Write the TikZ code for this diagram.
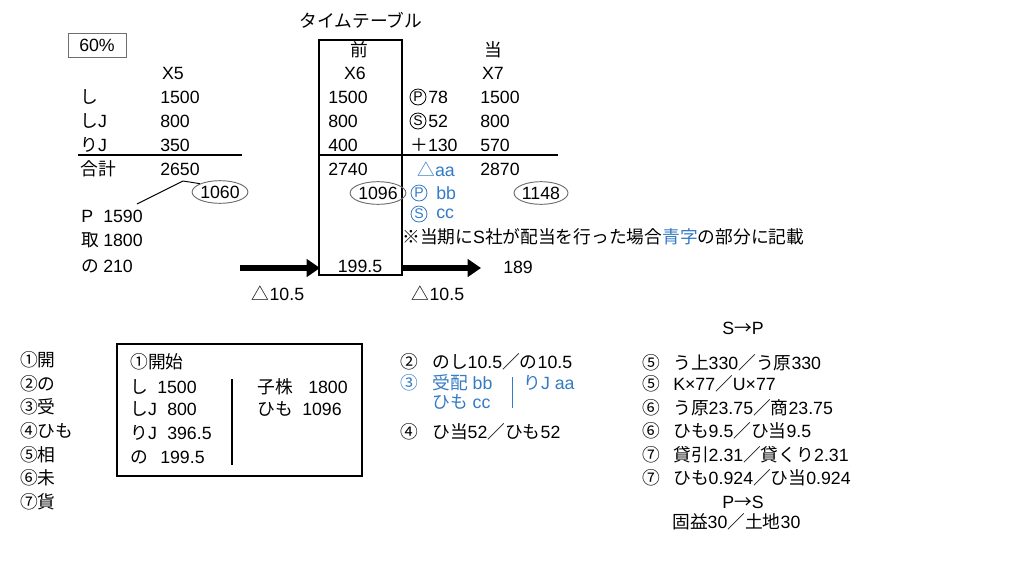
\documentclass[tikz,border=0pt]{standalone}
\usepackage{fontspec}
\setmainfont{Liberation Sans}
\newfontfamily\jp{Noto Sans CJK JP}
\newcommand\J[1]{{\jp #1}}
\usetikzlibrary{arrows.meta,shapes.geometric}
\definecolor{bl}{RGB}{52,122,196}
\definecolor{gr}{RGB}{110,110,110}
\begin{document}
\begin{tikzpicture}[x=0.75pt,y=-0.75pt,
  every node/.style={inner sep=0pt,font=\fontsize{13.3pt}{15pt}\selectfont},
  t/.style={anchor=west},
  bt/.style={anchor=west,text=bl},
  circ/.style={circle,draw,line width=0.6pt,minimum size=12pt,font=\fontsize{10.5pt}{11pt}\selectfont},
  oval/.style={ellipse,draw=gr,line width=0.7pt,minimum width=34pt,minimum height=17pt},
  bigarrow/.style={line width=4.8pt,-{Triangle[length=10pt,width=13pt]}},
  frame/.style={draw,line width=1.2pt}]
\useasboundingbox (0,0) rectangle (1024,576);
% top left
\node[draw=gr,line width=0.7pt,minimum width=43.5pt,minimum height=18pt] (pct) at (97,45) {60\%};
\node (title) at (361,20) {\J{タイムテーブル}};
\draw[frame] (319,40) rectangle (402,275);
\node (mae) at (359,50) {\J{前}};
\node (tou) at (493,50) {\J{当}};
\node (x5) at (173,73) {X5};
\node (x6) at (355,73) {X6};
\node (x7) at (493,73) {X7};
% labels
\node[t] (l1) at (80,97) {\J{し}};
\node[t] (l2) at (80,121) {\J{し}J};
\node[t] (l3) at (80,145) {\J{り}J};
\node[t] (l4) at (80,169) {\J{合計}};
% X5
\node[t] (a1) at (160,97) {1500};
\node[t] (a2) at (160,121) {800};
\node[t] (a3) at (160,145) {350};
\node[t] (a4) at (160,169) {2650};
% X6
\node[t] (b1) at (328,97) {1500};
\node[t] (b2) at (328,121) {800};
\node[t] (b3) at (328,145) {400};
\node[t] (b4) at (328,169) {2740};
% middle
\node[circ] (cp1) at (418,97) {P};
\node[t] (m1) at (428,97) {78};
\node[circ] (cs1) at (418,121) {S};
\node[t] (m2) at (428,121) {52};
\node[t] (m3) at (410,145) {\J{＋}130};
\node[bt] (m4) at (417,169) {\J{△}aa};
\node[circ,draw=bl,text=bl] (cp2) at (419,193) {P};
\node[bt] (m5) at (436,193) {bb};
\node[circ,draw=bl,text=bl] (cs2) at (419,214) {S};
\node[bt] (m6) at (436,214) {cc};
% X7
\node[t] (c1) at (480,97) {1500};
\node[t] (c2) at (480,121) {800};
\node[t] (c3) at (480,145) {570};
\node[t] (c4) at (480,169) {2870};
% rules
\coordinate (r1a) at (78,155); \coordinate (r1b) at (242,155);
\coordinate (r2a) at (320,155); \coordinate (r2b) at (558,155);
\draw[line width=0.8pt] (r1a) -- (r1b);
\draw[line width=0.8pt] (r2a) -- (r2b);
% ovals
\node[oval] (o1) at (220,192) {1060};
\node[oval] (o2) at (378,193) {1096};
\node[oval] (o3) at (541,193) {1148};
\coordinate (k1) at (137,204); \coordinate (k2) at (183,181);
\draw[line width=0.7pt] (k1) -- (k2) -- (o1.north west);
% P / 取 / の
\node[t] (p1) at (81,216) {P};
\node[t] (p2) at (103,216) {1590};
\node[t] (q1) at (81,240) {\J{取}};
\node[t] (q2) at (103,240) {1800};
\node[t] (s1) at (81,266) {\J{の}};
\node[t] (s2) at (103,266) {210};
% arrows
\coordinate (ar1) at (240,268); \coordinate (ar2) at (320,268);
\coordinate (ar3) at (402,268); \coordinate (ar4) at (481,268);
\draw[bigarrow] (ar1) -- (ar2);
\draw[bigarrow] (ar3) -- (ar4);
\node (v1) at (360,266) {199.5};
\node[t] (v2) at (503,267) {189};
\node (d1) at (278,293) {\J{△}10.5};
\node (d2) at (438,293) {\J{△}10.5};
\node[t] (note) at (402,237) {\J{※当期に}S\J{社が配当を行った場合}\textcolor{bl}{\J{青字}}\J{の部分に記載}};
% bottom left list
\node[t] (n1) at (20,360) {\J{①開}};
\node[t] (n2) at (20,384) {\J{②の}};
\node[t] (n3) at (20,407) {\J{③受}};
\node[t] (n4) at (20,431) {\J{④ひも}};
\node[t] (n5) at (20,455) {\J{⑤相}};
\node[t] (n6) at (20,478) {\J{⑥未}};
\node[t] (n7) at (20,502) {\J{⑦貨}};
% box
\draw[frame] (117,344) rectangle (362,476);
\node[t] (h0) at (130,362) {\J{①開始}};
\node[t] (h1) at (130,387) {\J{し}};
\node[t] (h1v) at (157,387) {1500};
\node[t] (h2) at (130,409) {\J{し}J};
\node[t] (h2v) at (167,409) {800};
\node[t] (h3) at (130,433) {\J{り}J};
\node[t] (h3v) at (167,433) {396.5};
\node[t] (h4) at (130,457) {\J{の}};
\node[t] (h4v) at (160,457) {199.5};
\coordinate (vb1) at (232,379); \coordinate (vb2) at (232,465);
\draw[line width=0.8pt] (vb1) -- (vb2);
\node[t] (k1n) at (257,387) {\J{子株}};
\node[t] (k1v) at (308,387) {1800};
\node[t] (k2n) at (257,409) {\J{ひも}};
\node[t] (k2v) at (302,409) {1096};
% middle entries
\node[t] (e2) at (400,362) {\J{②}};
\node[t] (e2t) at (432,362) {\J{のし}10.5\J{／の}10.5};
\node[bt] (e3) at (400,383) {\J{③}};
\node[bt] (e3t) at (432,383) {\J{受配} bb};
\node[bt] (e3u) at (432,402) {\J{ひも} cc};
\coordinate (bv1) at (512,377); \coordinate (bv2) at (512,408);
\draw[bl,line width=0.7pt] (bv1) -- (bv2);
\node[bt] (e3r) at (523,383) {\J{り}J aa};
\node[t] (e4) at (400,432) {\J{④}};
\node[t] (e4t) at (432,432) {\J{ひ当}52\J{／ひも}52};
% right entries
\node (sp) at (743,328) {S\J{→}P};
\node[t] (f1) at (642,363) {\J{⑤}};
\node[t] (f1t) at (673,363) {\J{う上}330\J{／う原}330};
\node[t] (f2) at (642,384) {\J{⑤}};
\node[t] (f2t) at (673,384) {K×77\J{／}U×77};
\node[t] (f3) at (642,408) {\J{⑥}};
\node[t] (f3t) at (673,408) {\J{う原}23.75\J{／商}23.75};
\node[t] (f4) at (642,431) {\J{⑥}};
\node[t] (f4t) at (673,431) {\J{ひも}9.5\J{／ひ当}9.5};
\node[t] (f5) at (642,455) {\J{⑦}};
\node[t] (f5t) at (673,455) {\J{貸引}2.31\J{／貸くり}2.31};
\node[t] (f6) at (642,478) {\J{⑦}};
\node[t] (f6t) at (673,478) {\J{ひも}0.924\J{／ひ当}0.924};
\node (ps) at (743,502) {P\J{→}S};
\node[t] (g1) at (672,522) {\J{固益}30\J{／土地}30};
\end{tikzpicture}
\end{document}
